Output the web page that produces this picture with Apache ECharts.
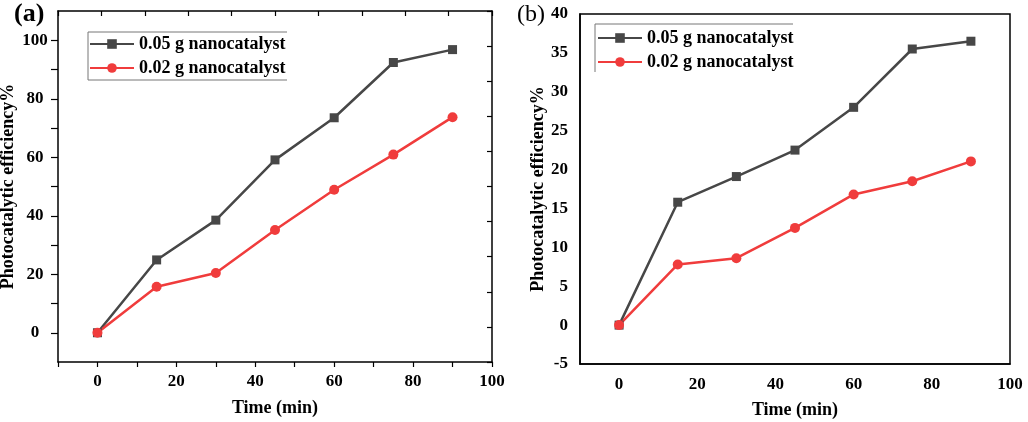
<!DOCTYPE html>
<html>
<head>
<meta charset="utf-8">
<script src="https://cdn.jsdelivr.net/npm/echarts@6/dist/echarts.min.js"></script>
<style>html,body{margin:0;padding:0;background:#fff}#c{width:1028px;height:422px}</style>
</head>
<body>
<div id="c"></div>
<script>
const timeMin = [0, 15, 30, 45, 60, 75, 90];
const aHigh = [0, 24.9, 38.5, 59.1, 73.5, 92.4, 96.8];
const aLow = [0, 15.7, 20.4, 35.1, 48.9, 60.9, 73.7];
const bHigh = [0, 15.8, 19.1, 22.5, 28.0, 35.5, 36.5];
const bLow = [0, 7.8, 8.6, 12.5, 16.8, 18.5, 21.05];
const xTickLabels = [0, 20, 40, 60, 80, 100];
const aYTickLabels = [0, 20, 40, 60, 80, 100];
const nameHigh = '0.05 g nanocatalyst';
const nameLow = '0.02 g nanocatalyst';

const FONT = '"Liberation Serif", "Times New Roman", serif';
const BLACK = '#474747';
const RED = '#f03c3c';
const zip = (xs, ys) => xs.map((x, i) => [x, ys[i]]);
const lbl = {fontFamily: FONT, fontWeight: 'bold', fontSize: 17, color: '#000'};
const nameStyle = {fontFamily: FONT, fontWeight: 'bold', fontSize: 18, color: '#000'};
const line = {show: true, onZero: false, lineStyle: {color: '#000', width: 1.5}};

function series(name, data, xi, yi, color, symbol) {
  return {
    name, type: 'line', xAxisIndex: xi, yAxisIndex: yi, data,
    symbol, symbolSize: symbol === 'rect' ? 9 : 10,
    lineStyle: {color, width: 2.5}, itemStyle: {color},
    animation: false
  };
}

const legendCommon = {
  orient: 'vertical', itemWidth: 44, itemHeight: 12, itemGap: 0, padding: 0,
  textStyle: {fontFamily: FONT, fontWeight: 'bold', fontSize: 18, color: '#000', lineHeight: 24},
  data: [nameHigh, nameLow]
};

const chart = echarts.init(document.getElementById('c'));
chart.setOption({
  backgroundColor: '#fff',
  animation: false,
  grid: [
    {left: 58, right: 536, top: 11, bottom: 60, outerBoundsMode: 'none'},
    {left: 580, right: 18, top: 14, bottom: 58, outerBoundsMode: 'none', show: true, borderColor: '#000', borderWidth: 1.5}
  ],
  xAxis: [
    {type: 'value', gridIndex: 0, min: -10, max: 100, position: 'bottom',
     axisLine: line, splitLine: {show: false},
     axisTick: {show: true, length: 5, lineStyle: {color: '#000', width: 1.2}, customValues: [-10, 0, 10, 20, 30, 40, 50, 60, 70, 80, 90, 100]},
     axisLabel: Object.assign({margin: 11, customValues: xTickLabels}, lbl),
     name: 'Time (min)', nameLocation: 'middle', nameGap: 37, nameTextStyle: nameStyle},
    {type: 'value', gridIndex: 0, min: 0, max: 10, interval: 1, position: 'top',
     axisLine: line, splitLine: {show: false},
     axisTick: {show: true, inside: true, length: 5, lineStyle: {color: '#000', width: 1.2}},
     axisLabel: {show: false}},
    {type: 'value', gridIndex: 1, min: -10, max: 100, position: 'bottom',
     axisLine: line, splitLine: {show: false}, axisTick: {show: false},
     axisLabel: Object.assign({margin: 12, customValues: xTickLabels}, lbl),
     name: 'Time (min)', nameLocation: 'middle', nameGap: 37, nameTextStyle: nameStyle}
  ],
  yAxis: [
    {type: 'value', gridIndex: 0, min: -10, max: 110, position: 'left',
     axisLine: line, splitLine: {show: false},
     axisTick: {show: true, length: 7, lineStyle: {color: '#000', width: 1.2}, customValues: [0, 10, 20, 30, 40, 50, 60, 70, 80, 90, 100]},
     axisLabel: Object.assign({margin: 23, align: 'center', customValues: aYTickLabels}, lbl),
     name: 'Photocatalytic efficiency%', nameLocation: 'middle', nameGap: 41, nameTextStyle: nameStyle},
    {type: 'value', gridIndex: 0, min: 0, max: 10, interval: 1, position: 'right',
     axisLine: line, splitLine: {show: false},
     axisTick: {show: true, inside: true, length: 5, lineStyle: {color: '#000', width: 1.2}},
     axisLabel: {show: false}},
    {type: 'value', gridIndex: 1, min: -5, max: 40, interval: 5, position: 'left',
     axisLine: line, splitLine: {show: false}, axisTick: {show: false},
     axisLabel: Object.assign({margin: 12}, lbl),
     name: 'Photocatalytic efficiency%', nameLocation: 'middle', nameGap: 31, nameTextStyle: nameStyle}
  ],
  legend: [
    Object.assign({left: 89, top: 32}, legendCommon),
    Object.assign({left: 597, top: 26}, legendCommon)
  ],
  graphic: [
    {type: 'polyline', shape: {points: [[287, 32], [88, 32], [88, 80], [287, 80]]}, style: {stroke: '#777', lineWidth: 1, fill: null}},
    {type: 'polyline', shape: {points: [[793, 24], [595, 24], [595, 72]]}, style: {stroke: '#777', lineWidth: 1, fill: null}},
    {type: 'text', left: 14, top: 1, style: {text: '(a)', font: 'bold 26px ' + FONT, fill: '#000'}},
    {type: 'text', left: 517, top: 3, style: {text: '(b)', font: '24px ' + FONT, fill: '#000'}}
  ],
  series: [
    series(nameHigh, zip(timeMin, aHigh), 0, 0, BLACK, 'rect'),
    series(nameLow, zip(timeMin, aLow), 0, 0, RED, 'circle'),
    series(nameHigh, zip(timeMin, bHigh), 2, 2, BLACK, 'rect'),
    series(nameLow, zip(timeMin, bLow), 2, 2, RED, 'circle')
  ]
});
</script>
</body>
</html>
